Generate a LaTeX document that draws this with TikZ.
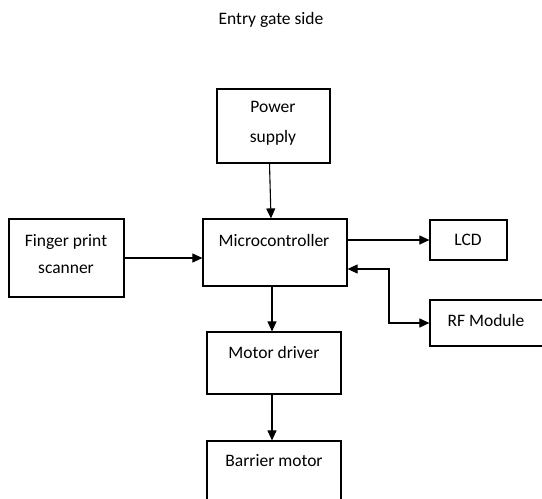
\documentclass[tikz,border=0pt]{standalone}
\usepackage{fontspec}
\setmainfont{Carlito}
\usetikzlibrary{arrows.meta, calc}

\begin{document}
\begin{tikzpicture}[
    x=1pt, y=-1pt,
    blk/.style={rectangle, draw=black, line width=1.2pt, inner sep=0pt},
    lbl/.style={font=\fontsize{17.5}{21}\selectfont, align=center, inner sep=0pt},
    arr/.style={-{Triangle[length=10pt, width=9pt]}, line width=1.1pt},
    node distance=0.6cm
]
    \useasboundingbox (0,0) rectangle (542,499);

    % Boxes
    \node[blk, minimum width=113pt, minimum height=74pt] (power) at (273.5,126) {};
    \node[blk, minimum width=144pt, minimum height=67pt] (micro) at (275,252.5) {};
    \node[blk, minimum width=115pt, minimum height=78pt] (fps) at (66.5,258) {};
    \node[blk, minimum width=77pt, minimum height=40pt] (lcd) at (468.5,240) {};
    \node[blk, minimum width=120pt, minimum height=46pt] (rf) at (490,323) {};
    \node[blk, minimum width=134pt, minimum height=62pt] (md) at (274,363) {};
    \node[blk, minimum width=134pt, minimum height=69pt] (bm) at (274,475.5) {};

    % Texts
    \node[lbl] (title) at (271,20) {Entry gate side};
    \node[lbl] (powert) at (273,123) {Power\\[9pt]supply};
    \node[lbl] (microt) at (274,240) {Microcontroller};
    \node[lbl] (fpst) at (66,254.5) {Finger print\\[6pt]scanner};
    \node[lbl] (lcdt) at (468,240) {LCD};
    \node[lbl] (rft) at (486,320) {RF Module};
    \node[lbl] (mdt) at (274,352) {Motor driver};
    \node[lbl] (bmt) at (274,461) {Barrier motor};

    % Connectors
    \coordinate (bend) at (389,300);
    \draw[arr] ([xshift=-4pt]power.south) -- ([xshift=-4pt]micro.north);
    \draw[arr] (fps.east) -- (micro.west |- fps.east);
    \draw[arr] (micro.east |- lcd.west) -- (lcd.west);
    \draw[arr, {Triangle[length=10pt, width=9pt]}-{Triangle[length=10pt, width=9pt]}]
        ([yshift=-16.5pt]micro.east) -| (bend |- rf.west) -- (rf.west);
    \draw[arr] ([xshift=-2pt]md.north |- micro.south) -- ([xshift=-2pt]md.north);
    \draw[arr] ([xshift=-2pt]md.south) -- ([xshift=-2pt]bm.north);
\end{tikzpicture}
\end{document}
